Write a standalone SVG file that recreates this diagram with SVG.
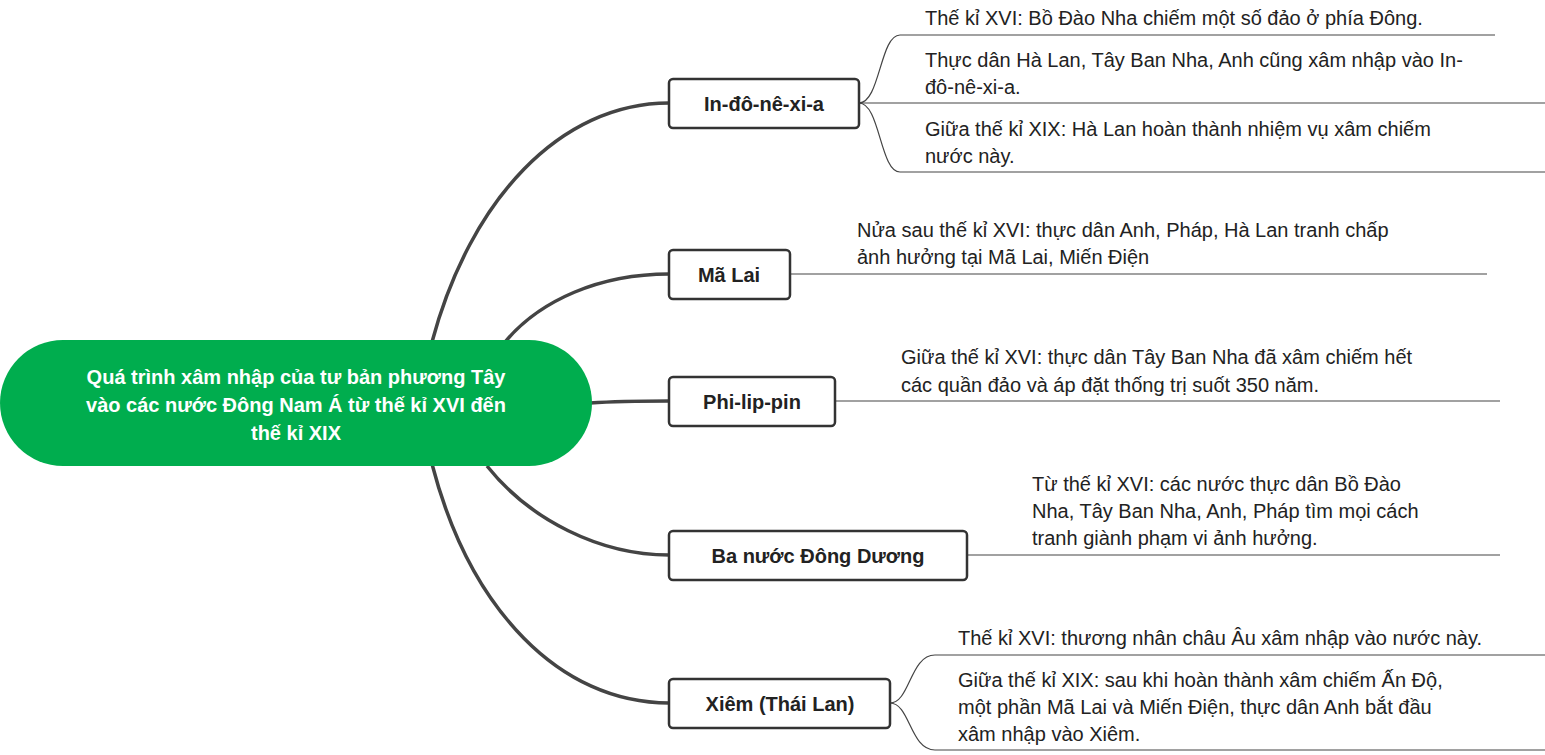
<svg xmlns="http://www.w3.org/2000/svg" width="1545" height="755" viewBox="0 0 1545 755">
<style>
.c{fill:none;stroke:#444;stroke-width:3.5}
.l{fill:none;stroke:#444;stroke-width:1.2}
.b{fill:#fff;stroke:#333;stroke-width:2.5}
.t{font-family:"Liberation Sans",Arial,sans-serif;font-size:20px;fill:#222}
.n{font-family:"Liberation Sans",Arial,sans-serif;font-size:20px;font-weight:bold;fill:#222;text-anchor:middle}
.r{font-family:"Liberation Sans",Arial,sans-serif;font-size:20px;font-weight:bold;fill:#fff;text-anchor:middle}
</style>
<rect width="1545" height="755" fill="#fff"/>
<g id="connectors">
<path class="c" d="M432,342 C470,200 560,103 669,103"/>
<path class="c" d="M505,342 C540,300 600,274 669,274"/>
<path class="c" d="M590,403 C620,401 640,401 669,401"/>
<path class="c" d="M487,466 C530,520 600,555 669,555"/>
<path class="c" d="M432,464 C470,610 560,703 669,703"/>
<path class="l" d="M859,103 C880,103 880,35 900,35 L1495,35"/>
<path class="l" d="M859,103 L1545,103"/>
<path class="l" d="M859,103 C880,103 880,172 900,172 L1545,172"/>
<path class="l" d="M790,274 L1487,274"/>
<path class="l" d="M835,401 L1500,401"/>
<path class="l" d="M967,555 L1500,555"/>
<path class="l" d="M890,703 C910,703 910,655 935,655 L1545,655"/>
<path class="l" d="M890,703 C910,703 910,750 935,750 L1545,750"/>
</g>
<g id="root">
<rect x="0" y="340" width="592" height="126" rx="63" fill="#00AD4E"/>
<text class="r" x="296" y="384">Quá trình xâm nhập của tư bản phương Tây</text>
<text class="r" x="296" y="412">vào các nước Đông Nam Á từ thế kỉ XVI đến</text>
<text class="r" x="296" y="440">thế kỉ XIX</text>
</g>
<g id="n1"><rect class="b" x="669" y="79" width="190" height="49" rx="4"/><text class="n" x="764" y="111">In-đô-nê-xi-a</text></g>
<g id="n2"><rect class="b" x="669" y="250" width="121" height="49" rx="4"/><text class="n" x="729" y="282">Mã Lai</text></g>
<g id="n3"><rect class="b" x="669" y="377" width="166" height="49" rx="4"/><text class="n" x="752" y="409">Phi-lip-pin</text></g>
<g id="n4"><rect class="b" x="669" y="531" width="298" height="49" rx="4"/><text class="n" x="818" y="563">Ba nước Đông Dương</text></g>
<g id="n5"><rect class="b" x="669" y="679" width="221" height="49" rx="4"/><text class="n" x="780" y="711">Xiêm (Thái Lan)</text></g>
<g id="leaves" class="t">
<text class="t" x="925" y="25">Thế kỉ XVI: Bồ Đào Nha chiếm một số đảo ở phía Đông.</text>
<text class="t" x="925" y="67">Thực dân Hà Lan, Tây Ban Nha, Anh cũng xâm nhập vào In-</text>
<text class="t" x="925" y="94">đô-nê-xi-a.</text>
<text class="t" x="925" y="136">Giữa thế kỉ XIX: Hà Lan hoàn thành nhiệm vụ xâm chiếm</text>
<text class="t" x="925" y="163">nước này.</text>
<text class="t" x="857" y="237">Nửa sau thế kỉ XVI: thực dân Anh, Pháp, Hà Lan tranh chấp</text>
<text class="t" x="857" y="264">ảnh hưởng tại Mã Lai, Miến Điện</text>
<text class="t" x="901" y="364">Giữa thế kỉ XVI: thực dân Tây Ban Nha đã xâm chiếm hết</text>
<text class="t" x="901" y="392">các quần đảo và áp đặt thống trị suốt 350 năm.</text>
<text class="t" x="1032" y="491">Từ thế kỉ XVI: các nước thực dân Bồ Đào</text>
<text class="t" x="1032" y="518">Nha, Tây Ban Nha, Anh, Pháp tìm mọi cách</text>
<text class="t" x="1032" y="545">tranh giành phạm vi ảnh hưởng.</text>
<text class="t" x="958" y="645">Thế kỉ XVI: thương nhân châu Âu xâm nhập vào nước này.</text>
<text class="t" x="958" y="687">Giữa thế kỉ XIX: sau khi hoàn thành xâm chiếm Ấn Độ,</text>
<text class="t" x="958" y="714">một phần Mã Lai và Miến Điện, thực dân Anh bắt đầu</text>
<text class="t" x="958" y="741">xâm nhập vào Xiêm.</text>
</g>
</svg>
